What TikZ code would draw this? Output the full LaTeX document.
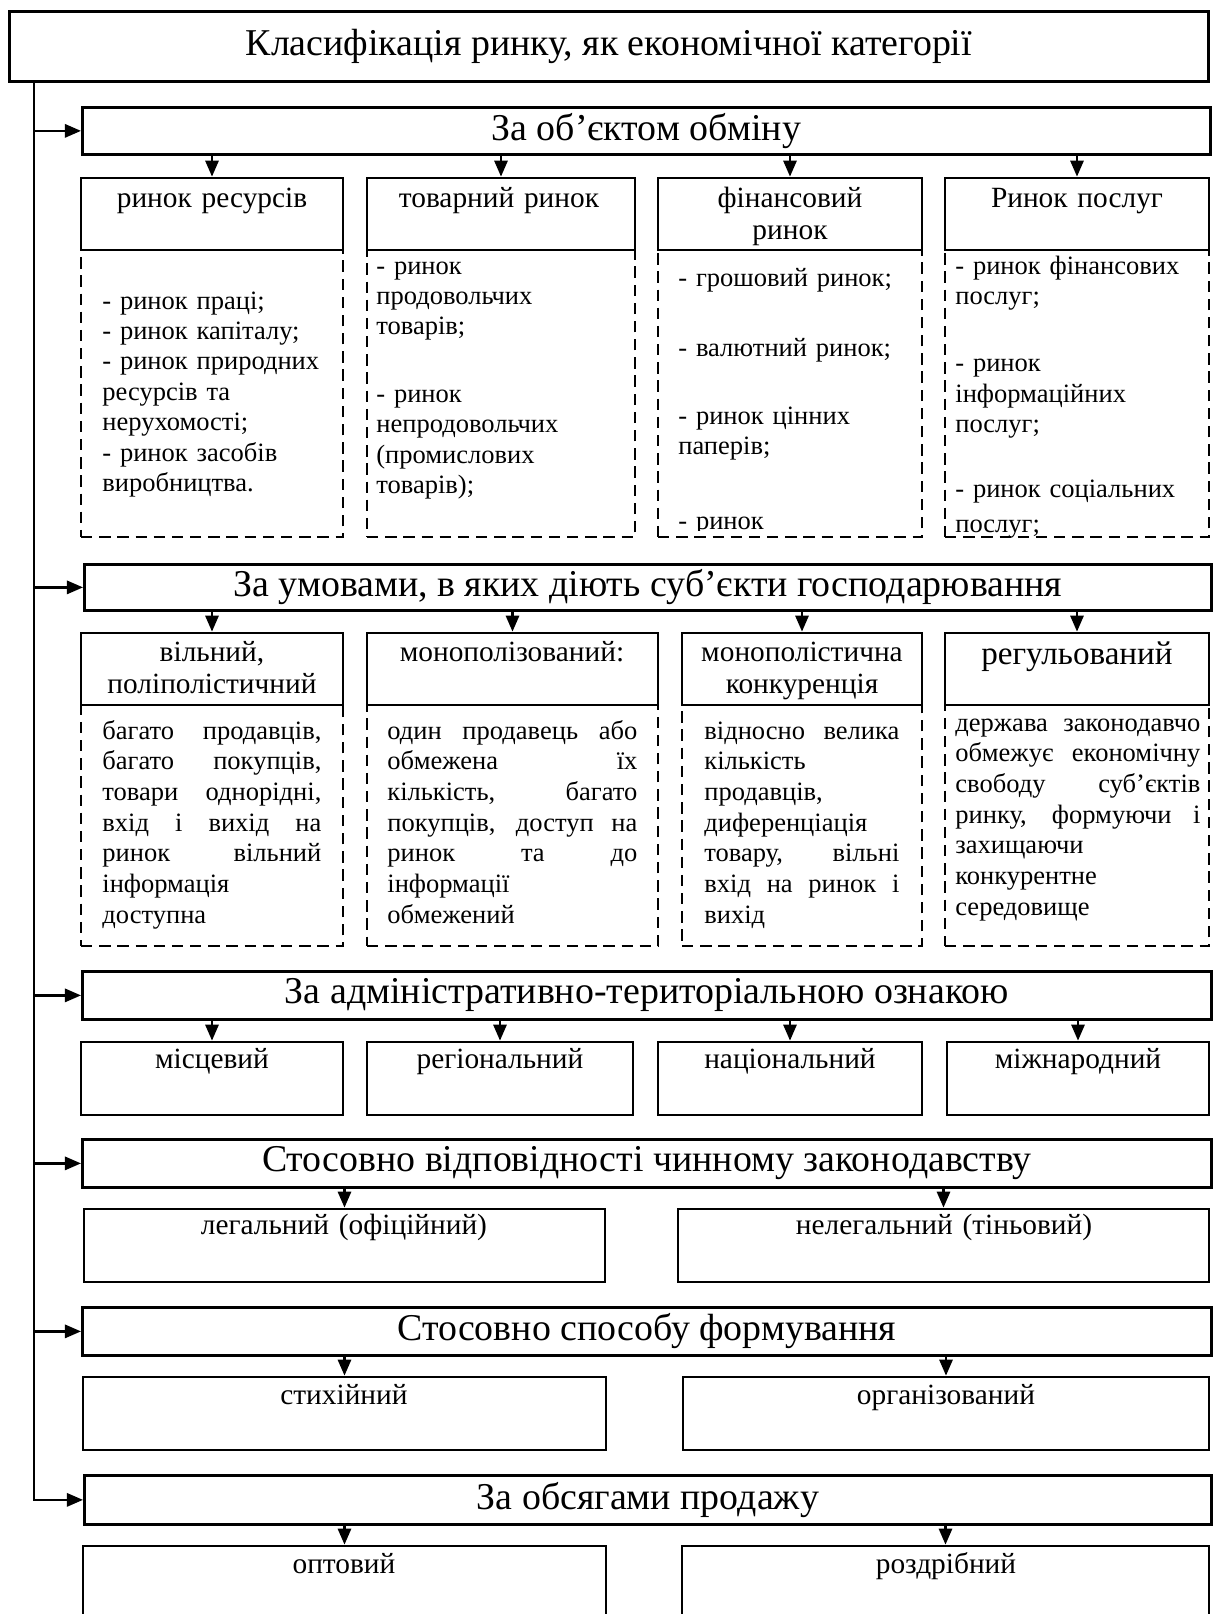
\documentclass[tikz,border=0pt]{standalone}
\usepackage{fontspec}
\setmainfont{Liberation Serif}
\usetikzlibrary{arrows.meta,fit,positioning}
\hyphenpenalty=10000

\begin{document}
\begin{tikzpicture}[x=0.528pt, y=-0.528pt,
  box/.style={draw, line width=1.45pt, inner sep=0pt},
  body/.style={draw, line width=1.45pt, inner sep=0pt, dash pattern=on 6pt off 3.6pt},
  big/.style={box, anchor=north west, font=\fontsize{20}{24}\selectfont},
  hdrtxt/.style={font=\fontsize{15.5}{17.4}\selectfont, align=center, inner sep=0pt, anchor=base, text width=480*\PX},
  lst/.style={font=\fontsize{14}{16.1}\selectfont, align=left, inner sep=0pt, anchor=base west, text width=240*\PX},
  jst/.style={font=\fontsize{14}{16.2}\selectfont, align=justify, inner sep=0pt, anchor=base west},
  arr/.style={line width=1.25pt, -{Triangle[length=8.5pt,width=7pt]}}]

  \newcommand\PX{0.528pt}

  \useasboundingbox (0,0) rectangle (1216,1614);

  \node[big, minimum width=1199*\PX, minimum height=70*\PX] (title) at (8,10) {Класифікація ринку, як економічної категорії};
  \coordinate (trunk) at (34,80);

  % main branches
  \node[big, minimum width=1128*\PX, minimum height=47*\PX] (sec1) at (81,106) {За об’єктом обміну};
  \node[big, minimum width=1127*\PX, minimum height=46*\PX] (sec2) at (83,563) {За умовами, в яких діють суб’єкти господарювання};
  \node[big, minimum width=1129*\PX, minimum height=48*\PX] (sec3) at (81,970) {За адміністративно-територіальною ознакою};
  \node[big, minimum width=1129*\PX, minimum height=48*\PX] (sec4) at (81,1138) {Стосовно відповідності чинному законодавству};
  \node[big, minimum width=1129*\PX, minimum height=48*\PX] (sec5) at (81,1306) {Стосовно способу формування};
  \node[big, minimum width=1127*\PX, minimum height=49*\PX] (sec6) at (83,1474) {За обсягами продажу};

  \draw[arr] (trunk |- sec1.west) -- (sec1.west);
  \draw[arr] (trunk |- sec2.west) -- (sec2.west);
  \draw[arr] (trunk |- sec3.west) -- (sec3.west);
  \draw[arr] (trunk |- sec4.west) -- (sec4.west);
  \draw[arr] (trunk |- sec5.west) -- (sec5.west);
  \draw[arr] (trunk) |- (sec6.west);

  % object of exchange
  \node[body, fit={(81,250) (343,537)}] (r1a-b) {};
  \node[body, fit={(367,250) (635,537)}] (r1b-b) {};
  \node[body, fit={(658,250) (922,537)}] (r1c-b) {};
  \node[body, fit={(945,250) (1209,537)}] (r1d-b) {};
  \node[box, fit={(81,178) (343,250)}] (r1a) {};
  \node[box, fit={(367,178) (635,250)}] (r1b) {};
  \node[box, fit={(658,178) (922,250)}] (r1c) {};
  \node[box, fit={(945,178) (1209,250)}] (r1d) {};

  \node[hdrtxt] (r1a-t) at (212,207) {ринок ресурсів};
  \node[hdrtxt] (r1b-t) at (499,207) {товарний ринок};
  \node[hdrtxt] (r1c-t) at (790,207) {фінансовий\\ринок};
  \node[hdrtxt] (r1d-t) at (1077,207) {Ринок послуг};

  \node[lst] (r1a-l) at (102,309) {- ринок праці;\\- ринок капіталу;\\- ринок природних\\ресурсів та\\нерухомості;\\- ринок засобів\\виробництва.};
  \node[lst] (r1b-l) at (376,274) {- ринок\\продовольчих\\товарів;\\[19.3pt]- ринок\\непродовольчих\\(промислових\\товарів);};
  \begin{scope}
    \clip (658,250) rectangle (922,530);
    \node[lst] (r1c-l) at (678,286) {- грошовий ринок;\\[20.9pt]- валютний ринок;\\[19.8pt]- ринок цінних\\паперів;\\[23.5pt]- ринок};
  \end{scope}
  \begin{scope}
    \clip (945,250) rectangle (1209,537);
    \node[lst] (r1d-l) at (955,274) {- ринок фінансових\\послуг;\\[19.3pt]- ринок\\інформаційних\\послуг;\\[18.2pt]- ринок соціальних\\[2.4pt]послуг;};
  \end{scope}

  \draw[arr] (r1a.north |- sec1.south) -- (r1a.north);
  \draw[arr] (r1b.north |- sec1.south) -- (r1b.north);
  \draw[arr] (r1c.north |- sec1.south) -- (r1c.north);
  \draw[arr] (r1d.north |- sec1.south) -- (r1d.north);

  % conditions of business
  \node[body, fit={(81,705) (343,946)}] (r2a-b) {};
  \node[body, fit={(367,705) (658,946)}] (r2b-b) {};
  \node[body, fit={(682,705) (922,946)}] (r2c-b) {};
  \node[body, fit={(945,705) (1209,946)}] (r2d-b) {};
  \node[box, fit={(81,633) (343,705)}] (r2a) {};
  \node[box, fit={(367,633) (658,705)}] (r2b) {};
  \node[box, fit={(682,633) (922,705)}] (r2c) {};
  \node[box, fit={(945,633) (1209,705)}] (r2d) {};

  \node[hdrtxt] (r2a-t) at (212,661) {вільний,\\поліполістичний};
  \node[hdrtxt] (r2b-t) at (512,661) {монополізований:};
  \node[hdrtxt] (r2c-t) at (802,661) {монополістична\\конкуренція};
  \node[hdrtxt, font=\fontsize{17.5}{20}\selectfont] (r2d-t) at (1077,664) {регульований};

  \node[jst, text width=219*\PX] (r2a-l) at (102,739) {багато продавців,\linebreak
    багато покупців,\linebreak товари однорідні,\linebreak вхід і вихід на\linebreak
    ринок вільний\linebreak інформація\linebreak доступна};
  \node[jst, text width=250*\PX] (r2b-l) at (387,739) {один продавець або\linebreak
    обмежена їх\linebreak кількість, багато\linebreak покупців, доступ на\linebreak
    ринок та до\linebreak інформації\linebreak обмежений};
  \node[jst, text width=195*\PX] (r2c-l) at (704,739) {відносно велика\linebreak
    кількість\linebreak продавців,\linebreak диференціація\linebreak
    товару, вільні\linebreak вхід на ринок і\linebreak вихід};
  \node[jst, text width=245*\PX] (r2d-l) at (955,731) {держава законодавчо\linebreak
    обмежує економічну\linebreak свободу суб’єктів\linebreak ринку, формуючи і\linebreak
    захищаючи\linebreak конкурентне\linebreak середовище};

  \draw[arr] (r2a.north |- sec2.south) -- (r2a.north);
  \draw[arr] (r2b.north |- sec2.south) -- (r2b.north);
  \draw[arr] (r2c.north |- sec2.south) -- (r2c.north);
  \draw[arr] (r2d.north |- sec2.south) -- (r2d.north);

  % territory
  \node[box, fit={(81,1042) (343,1115)}] (r3a) {};
  \node[box, fit={(367,1042) (633,1115)}] (r3b) {};
  \node[box, fit={(658,1042) (922,1115)}] (r3c) {};
  \node[box, fit={(947,1042) (1209,1115)}] (r3d) {};
  \node[hdrtxt] (r3a-t) at (212,1068) {місцевий};
  \node[hdrtxt] (r3b-t) at (500,1068) {регіональний};
  \node[hdrtxt] (r3c-t) at (790,1068) {національний};
  \node[hdrtxt] (r3d-t) at (1078,1068) {міжнародний};

  \draw[arr] (r3a.north |- sec3.south) -- (r3a.north);
  \draw[arr] (r3b.north |- sec3.south) -- (r3b.north);
  \draw[arr] (r3c.north |- sec3.south) -- (r3c.north);
  \draw[arr] (r3d.north |- sec3.south) -- (r3d.north);

  % law, formation, volume
  \node[box, fit={(84,1209) (605,1282)}] (r4a) {};
  \node[box, fit={(678,1209) (1209,1282)}] (r4b) {};
  \node[hdrtxt] (r4a-t) at (344,1234) {легальний (офіційний)};
  \node[hdrtxt] (r4b-t) at (944,1234) {нелегальний (тіньовий)};

  \node[box, fit={(83,1377) (606,1450)}] (r5a) {};
  \node[box, fit={(683,1377) (1209,1450)}] (r5b) {};
  \node[hdrtxt] (r5a-t) at (344,1404) {стихійний};
  \node[hdrtxt] (r5b-t) at (946,1404) {організований};

  \node[box, fit={(83,1546) (606,1640)}] (r6a) {};
  \node[box, fit={(682,1546) (1209,1640)}] (r6b) {};
  \node[hdrtxt] (r6a-t) at (344,1573) {оптовий};
  \node[hdrtxt] (r6b-t) at (946,1573) {роздрібний};

  \draw[arr] (r4a.north |- sec4.south) -- (r4a.north);
  \draw[arr] (r4b.north |- sec4.south) -- (r4b.north);
  \draw[arr] (r5a.north |- sec5.south) -- (r5a.north);
  \draw[arr] (r5b.north |- sec5.south) -- (r5b.north);
  \draw[arr] (r6a.north |- sec6.south) -- (r6a.north);
  \draw[arr] (r6b.north |- sec6.south) -- (r6b.north);

\end{tikzpicture}
\end{document}
